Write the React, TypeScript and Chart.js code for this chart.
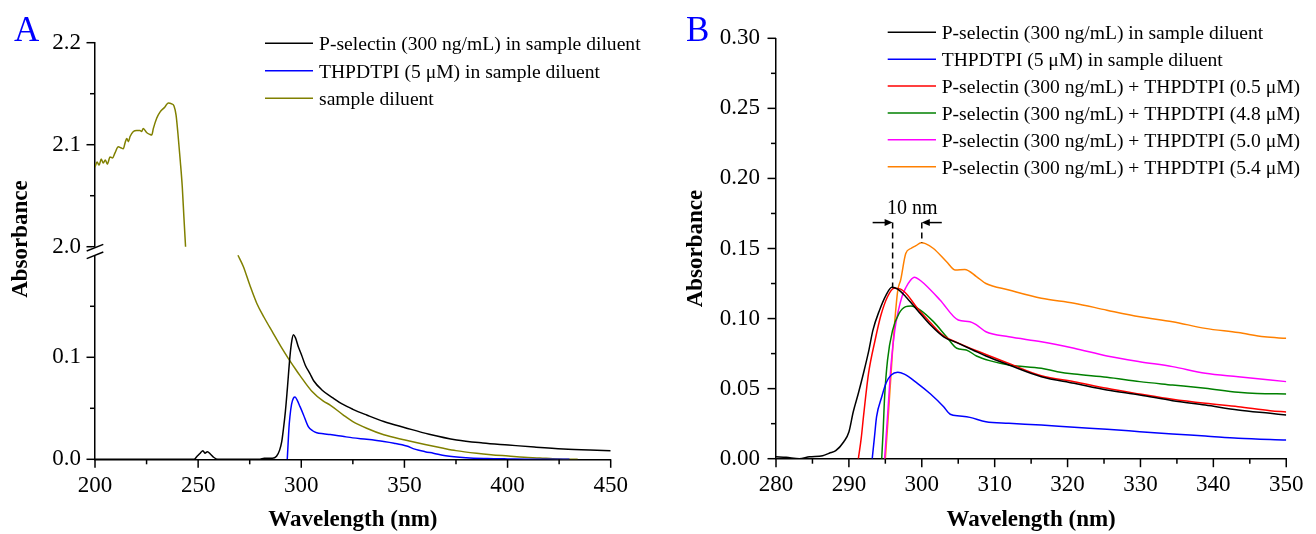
import React, { useEffect, useRef } from 'react';
import { Chart, registerables } from 'chart.js';

Chart.register(...registerables);

const FONT = "'Liberation Serif', 'Times New Roman', serif";
Chart.defaults.font.family = FONT;
Chart.defaults.color = '#000';

// ---------- Panel A ----------
const A_X_TICKS = [200, 250, 300, 350, 400, 450];
const A_X_MINOR = [225, 275, 325, 375, 425];
const A_Y_LOW_TICKS = [0, 0.1];
const A_Y_LOW_MINOR = [0.05, 0.15];
const A_Y_HIGH_TICKS = [2.0, 2.1, 2.2];
const A_Y_HIGH_MINOR = [2.05, 2.15];

const A_LABELS = [
  'P-selectin (300 ng/mL) in sample diluent',
  'THPDTPI (5 \u03bcM) in sample diluent',
  'sample diluent',
];

const A_PSEL_NM = [200, 248, 249.5, 251, 252.3, 253.3, 254.5, 256, 257.5, 259.5, 280, 282, 286, 288, 289.5, 290.5, 291.3, 292.3, 293.2, 294.5, 295.4, 296.2, 297.2, 298.6, 300, 302, 304.2, 306, 310, 315.5, 320, 325, 331.7, 340, 350.3, 362, 375.3, 388, 400.4, 413, 427, 440, 450];
const A_PSEL_ABS = [0, 0, 0.003, 0.006, 0.0085, 0.006, 0.0075, 0.005, 0.002, 0, 0, 0.001, 0.001, 0.003, 0.009, 0.017, 0.029, 0.047, 0.068, 0.1006, 0.116, 0.122, 0.119, 0.110, 0.103, 0.092, 0.084, 0.077, 0.068, 0.060, 0.054, 0.049, 0.0434, 0.037, 0.031, 0.0245, 0.0189, 0.016, 0.014, 0.012, 0.0101, 0.009, 0.0084];

const A_THP_NM = [293.2, 293.6, 294.0, 294.5, 295.3, 296.2, 297, 298, 299.4, 301, 303.4, 305.5, 307.5, 310.7, 314, 320, 325, 331.7, 340, 345, 351.1, 355, 360, 364, 370, 380, 390, 400, 415, 430];
const A_THP_ABS = [0, 0.015, 0.03, 0.042, 0.054, 0.06, 0.061, 0.058, 0.0516, 0.044, 0.032, 0.028, 0.026, 0.025, 0.0243, 0.0225, 0.021, 0.0196, 0.0175, 0.0158, 0.013, 0.010, 0.0075, 0.006, 0.0035, 0.0016, 0.0008, 0.0004, 0, 0];

const A_DIL_HIGH_NM = [200, 201, 202, 203, 204, 205, 206, 207.3, 208.5, 209.7, 211.3, 212.5, 213.7, 214.6, 215.4, 216.2, 217, 218.6, 220.2, 221.8, 222.6, 223.4, 225, 226.7, 227.5, 228.3, 229.9, 231.5, 233.9, 235.5, 237.2, 238.3, 239.3, 240.2, 241.3, 242.3, 243.1, 243.9];
const A_DIL_HIGH_ABS = [2.078, 2.083, 2.080, 2.086, 2.082, 2.085, 2.081, 2.088, 2.087, 2.092, 2.098, 2.097, 2.096, 2.102, 2.106, 2.103, 2.108, 2.113, 2.114, 2.114, 2.113, 2.116, 2.112, 2.110, 2.1095, 2.116, 2.126, 2.132, 2.137, 2.141, 2.140, 2.138, 2.129, 2.111, 2.085, 2.059, 2.029, 2.0];

const A_DIL_LOW_NM = [269.3, 271.9, 275, 278.4, 282, 286.4, 290, 293.7, 297, 299.4, 305, 310.7, 314, 320.4, 325, 331.7, 340, 350.3, 360, 368.9, 375, 385, 392, 400.4, 408, 415.7, 422, 427, 434];
const A_DIL_LOW_ABS = [0.200, 0.189, 0.171, 0.153, 0.139, 0.1235, 0.111, 0.099, 0.089, 0.082, 0.067, 0.057, 0.0532, 0.0434, 0.037, 0.0304, 0.024, 0.0189, 0.0145, 0.0108, 0.0085, 0.0059, 0.0045, 0.0032, 0.002, 0.0013, 0.0005, 0.0001, 0];

// ---------- Panel B ----------
const B_X_TICKS = [280, 290, 300, 310, 320, 330, 340, 350];
const B_X_MINOR = [285, 295, 305, 315, 325, 335, 345];
const B_Y_TICKS = [0, 0.05, 0.10, 0.15, 0.20, 0.25, 0.30];
const B_Y_MINOR = [0.025, 0.075, 0.125, 0.175, 0.225, 0.275];

const B_LABELS = [
  'P-selectin (300 ng/mL) in sample diluent',
  'THPDTPI (5 \u03bcM) in sample diluent',
  'P-selectin (300 ng/mL) + THPDTPI (0.5 \u03bcM)',
  'P-selectin (300 ng/mL) + THPDTPI (4.8 \u03bcM)',
  'P-selectin (300 ng/mL) + THPDTPI (5.0 \u03bcM)',
  'P-selectin (300 ng/mL) + THPDTPI (5.4 \u03bcM)',
];

const B_PSEL_NM = [280, 281.4, 283.2, 284.6, 286.4, 287.3, 288.2, 289.3, 290, 290.6, 291.3, 292, 292.7, 293.3, 294.2, 295.1, 295.9, 296.7, 297.8, 299.4, 301.2, 303, 304.8, 307, 308.8, 311.95, 316.4, 320.9, 325.4, 329.9, 334.4, 338.9, 343.4, 347.8, 350];
const B_PSEL_ABS = [0.0014, 0.001, 0.0, 0.0014, 0.0021, 0.0039, 0.0057, 0.0121, 0.019, 0.0335, 0.0467, 0.061, 0.0764, 0.0918, 0.106, 0.1168, 0.1223, 0.121, 0.1156, 0.106, 0.0954, 0.087, 0.0828, 0.0776, 0.0733, 0.0669, 0.0585, 0.0538, 0.049, 0.0455, 0.0414, 0.0383, 0.0348, 0.0324, 0.0312];

const B_THP_NM = [293.2, 293.5, 293.8, 294.5, 295.1, 295.8, 296.7, 297.6, 299.4, 301.2, 303, 303.9, 305.2, 306.6, 308.8, 311.95, 316.4, 320.9, 325.4, 329.9, 334.4, 338.9, 343.4, 350];
const B_THP_ABS = [0, 0.015, 0.030, 0.044, 0.054, 0.0597, 0.0617, 0.0604, 0.0538, 0.0462, 0.0371, 0.0317, 0.0305, 0.0295, 0.0264, 0.0253, 0.024, 0.0224, 0.021, 0.0193, 0.0176, 0.0162, 0.0146, 0.0133];

const B_MIX05_NM = [291.3, 291.7, 292, 292.7, 293.6, 294.4, 295.3, 296.2, 297.1, 298, 299.4, 301.2, 303, 304.8, 307.5, 311.95, 316.4, 320.9, 325.4, 329.9, 334.4, 338.9, 343.4, 347.8, 350];
const B_MIX05_ABS = [0, 0.015, 0.030, 0.061, 0.0847, 0.1025, 0.1156, 0.1216, 0.121, 0.117, 0.1073, 0.097, 0.0876, 0.083, 0.077, 0.068, 0.0592, 0.0549, 0.0502, 0.0462, 0.0424, 0.0395, 0.0371, 0.0343, 0.0333];

const B_MIX48_NM = [294.5, 294.7, 294.9, 295.3, 296, 296.9, 297.8, 298.5, 299.8, 301.6, 303.4, 304.8, 306.1, 307.5, 309.3, 311.95, 316.4, 318.6, 320.9, 325.4, 329.9, 334.4, 338.9, 343.4, 346, 350];
const B_MIX48_ABS = [0, 0.02, 0.044, 0.0704, 0.0918, 0.1038, 0.1085, 0.109, 0.1061, 0.0978, 0.087, 0.0788, 0.0776, 0.0733, 0.070, 0.0669, 0.0645, 0.0621, 0.0604, 0.0581, 0.055, 0.0526, 0.0502, 0.0474, 0.0465, 0.0462];

const B_MIX50_NM = [294.9, 295.3, 295.8, 296.3, 296.8, 297.3, 297.8, 298.4, 299, 299.6, 300.3, 302.5, 305, 306.6, 307.5, 308.8, 311.95, 316.4, 320.9, 325.4, 329.9, 334.4, 338.9, 343.4, 350];
const B_MIX50_ABS = [0, 0.03, 0.068, 0.092, 0.106, 0.116, 0.122, 0.127, 0.1294, 0.128, 0.125, 0.1133, 0.099, 0.0978, 0.0955, 0.0906, 0.087, 0.0835, 0.0788, 0.0733, 0.0692, 0.0657, 0.0609, 0.0585, 0.055];

const B_MIX54_NM = [295, 295.4, 295.9, 296.2, 296.7, 297.1, 297.8, 298.5, 299.2, 299.9, 300.5, 301.6, 303.4, 304.6, 305.9, 307.5, 308.8, 311.95, 316.4, 320.9, 325.4, 329.9, 334.4, 338.9, 343.4, 347, 350];
const B_MIX54_ABS = [0, 0.03, 0.07, 0.092, 0.12, 0.1275, 0.1465, 0.150, 0.152, 0.1541, 0.1535, 0.150, 0.1406, 0.1347, 0.1351, 0.130, 0.125, 0.1204, 0.1145, 0.111, 0.106, 0.1013, 0.0978, 0.093, 0.090, 0.087, 0.0859];

// 10 nm shift annotation (data units)
const B_SHIFT_FROM_NM = 296;
const B_SHIFT_TO_NM = 300;
const B_SHIFT_FROM_ABS = 0.1223;
const B_SHIFT_TO_ABS = 0.154;
const B_SHIFT_TOP_ABS = 0.1685;
const B_SHIFT_TEXT = '10 nm';

// ---------- helpers ----------
const pts = (xs: number[], ys: number[]) => xs.map((x, i) => ({ x, y: ys[i] }));

function line(label: string, color: string, xs: number[], ys: number[], yAxisID: string, extra: any = {}) {
  return {
    label,
    data: pts(xs, ys),
    borderColor: color,
    backgroundColor: color,
    borderWidth: 1.5,
    pointRadius: 0,
    fill: false,
    cubicInterpolationMode: 'monotone',
    xAxisID: 'x',
    yAxisID,
    ...extra,
  };
}

function fixedTicks(values: number[]) {
  return (scale: any) => {
    scale.ticks = values.map((v) => ({ value: v }));
  };
}

function ticksPlugin(spec: Record<string, { major: number[]; minor: number[] }>) {
  return {
    id: 'outTicks',
    afterDraw(chart: any) {
      const ctx = chart.ctx;
      ctx.save();
      ctx.strokeStyle = '#000';
      ctx.lineWidth = 1.5;
      Object.keys(spec).forEach((id) => {
        const s = chart.scales[id];
        const draw = (v: number, len: number) => {
          const p = s.getPixelForValue(v);
          ctx.beginPath();
          if (s.isHorizontal()) {
            ctx.moveTo(p, s.top);
            ctx.lineTo(p, s.top + len);
          } else {
            ctx.moveTo(s.right, p);
            ctx.lineTo(s.right - len, p);
          }
          ctx.stroke();
        };
        spec[id].major.forEach((v) => draw(v, 8.5));
        spec[id].minor.forEach((v) => draw(v, 5));
      });
      ctx.restore();
    },
  };
}

function legendPlugin(o: { x: number; y: number; step: number; len: number; gap: number }) {
  return {
    id: 'lineLegend',
    afterDraw(chart: any) {
      const ctx = chart.ctx;
      const items = chart.data.datasets.filter((d: any) => !d.legendHidden);
      ctx.save();
      ctx.font = `19.6px ${FONT}`;
      ctx.textAlign = 'left';
      ctx.textBaseline = 'alphabetic';
      items.forEach((d: any, i: number) => {
        const y = o.y + i * o.step;
        ctx.strokeStyle = d.borderColor;
        ctx.lineWidth = 1.5;
        ctx.beginPath();
        ctx.moveTo(o.x, y);
        ctx.lineTo(o.x + o.len, y);
        ctx.stroke();
        ctx.fillStyle = '#000';
        ctx.fillText(d.label, o.x + o.len + o.gap, y + 7);
      });
      ctx.restore();
    },
  };
}

function letterPlugin(letter: string, x: number, y: number) {
  return {
    id: 'panelLetter',
    afterDraw(chart: any) {
      const ctx = chart.ctx;
      ctx.save();
      ctx.font = `35px ${FONT}`;
      ctx.fillStyle = '#0000ff';
      ctx.textAlign = 'left';
      ctx.textBaseline = 'alphabetic';
      ctx.fillText(letter, x, y);
      ctx.restore();
    },
  };
}

const breakPlugin = {
  id: 'axisBreak',
  afterDraw(chart: any) {
    const ctx = chart.ctx;
    const low = chart.scales.yLow;
    const x = low.right;
    const p = low.top;
    ctx.save();
    ctx.fillStyle = '#fff';
    ctx.fillRect(x - 3, p - 3.3, 6, 7.6);
    ctx.strokeStyle = '#000';
    ctx.lineWidth = 1.5;
    [p - 3.3, p + 4.3].forEach((cy) => {
      ctx.beginPath();
      ctx.moveTo(x - 8.3, cy + 3.3);
      ctx.lineTo(x + 8.3, cy - 3.3);
      ctx.stroke();
    });
    // y-axis title for the broken axis
    ctx.translate(20.8, 239);
    ctx.rotate(-Math.PI / 2);
    ctx.font = `bold 23px ${FONT}`;
    ctx.fillStyle = '#000';
    ctx.textAlign = 'center';
    ctx.textBaseline = 'middle';
    ctx.fillText('Absorbance', 0, 0);
    ctx.restore();
  },
};

const shiftPlugin = {
  id: 'shiftNote',
  afterDraw(chart: any) {
    const ctx = chart.ctx;
    const xs = chart.scales.x;
    const ys = chart.scales.y;
    const xL = xs.getPixelForValue(B_SHIFT_FROM_NM);
    const xR = xs.getPixelForValue(B_SHIFT_TO_NM);
    const yT = ys.getPixelForValue(B_SHIFT_TOP_ABS);
    const yL = ys.getPixelForValue(B_SHIFT_FROM_ABS);
    const yR = ys.getPixelForValue(B_SHIFT_TO_ABS);
    ctx.save();
    ctx.strokeStyle = '#000';
    ctx.fillStyle = '#000';
    ctx.lineWidth = 1.5;
    ctx.setLineDash([6, 4]);
    ctx.beginPath();
    ctx.moveTo(xL, yT);
    ctx.lineTo(xL, yL);
    ctx.moveTo(xR, yT);
    ctx.lineTo(xR, yR);
    ctx.stroke();
    ctx.setLineDash([]);
    const arrow = (tip: number, dir: number) => {
      ctx.beginPath();
      ctx.moveTo(tip - dir * 20, yT);
      ctx.lineTo(tip - dir * 6, yT);
      ctx.stroke();
      ctx.beginPath();
      ctx.moveTo(tip, yT);
      ctx.lineTo(tip - dir * 8, yT - 3.5);
      ctx.lineTo(tip - dir * 8, yT + 3.5);
      ctx.closePath();
      ctx.fill();
    };
    arrow(xL, 1);
    arrow(xR, -1);
    ctx.font = `20px ${FONT}`;
    ctx.textAlign = 'center';
    ctx.textBaseline = 'alphabetic';
    ctx.fillText(B_SHIFT_TEXT, (xL + xR) / 2 + 5, yT - 9);
    ctx.restore();
  },
};

const tickFont = { family: FONT, size: 23 };
const titleFont = { family: FONT, size: 23, weight: 'bold' as const };
const border = { display: true, color: '#000', width: 1.5 };
const noGrid = { display: false, drawTicks: false };

export default function App() {
  const refA = useRef<HTMLCanvasElement | null>(null);
  const refB = useRef<HTMLCanvasElement | null>(null);

  useEffect(() => {
    const chartA = new Chart(refA.current as HTMLCanvasElement, {
      type: 'line',
      data: {
        datasets: [
          line(A_LABELS[0], '#000000', A_PSEL_NM, A_PSEL_ABS, 'yLow'),
          line(A_LABELS[1], '#0000ff', A_THP_NM, A_THP_ABS, 'yLow'),
          line(A_LABELS[2], '#808000', A_DIL_HIGH_NM, A_DIL_HIGH_ABS, 'yHigh'),
          line(A_LABELS[2], '#808000', A_DIL_LOW_NM, A_DIL_LOW_ABS, 'yLow', { legendHidden: true }),
        ] as any,
      },
      options: {
        responsive: false,
        animation: false,
        events: [],
        layout: { padding: { left: 0, top: 42.7, right: 49.3, bottom: 0 } },
        plugins: { legend: { display: false }, tooltip: { enabled: false } },
        scales: {
          x: {
            type: 'linear',
            min: 200,
            max: 450,
            afterBuildTicks: fixedTicks(A_X_TICKS),
            afterFit: (s: any) => { s.height = 74.7; },
            grid: noGrid,
            border,
            ticks: { font: tickFont, color: '#000', padding: 12.7, maxRotation: 0, autoSkip: false, callback: (v: any) => String(v) },
            title: { display: true, text: 'Wavelength (nm)', font: titleFont, color: '#000', padding: { top: 0, bottom: 0 } },
          },
          yLow: {
            type: 'linear',
            position: 'left',
            stack: 'a',
            stackWeight: 1,
            min: 0,
            max: 0.2042,
            afterBuildTicks: fixedTicks(A_Y_LOW_TICKS),
            afterFit: (s: any) => { s.width = 95; },
            grid: noGrid,
            border,
            ticks: { font: tickFont, color: '#000', padding: 14, callback: (v: any) => Number(v).toFixed(1) },
          },
          yHigh: {
            type: 'linear',
            position: 'left',
            stack: 'a',
            stackWeight: 1,
            min: 1.9958,
            max: 2.2,
            afterBuildTicks: fixedTicks(A_Y_HIGH_TICKS),
            afterFit: (s: any) => { s.width = 95; },
            grid: noGrid,
            border,
            ticks: { font: tickFont, color: '#000', padding: 14, callback: (v: any) => Number(v).toFixed(1) },
          },
        } as any,
      },
      plugins: [
        ticksPlugin({
          x: { major: A_X_TICKS, minor: A_X_MINOR },
          yLow: { major: A_Y_LOW_TICKS, minor: A_Y_LOW_MINOR },
          yHigh: { major: A_Y_HIGH_TICKS, minor: A_Y_HIGH_MINOR },
        }),
        breakPlugin,
        legendPlugin({ x: 265, y: 43.3, step: 27.5, len: 48, gap: 6 }),
        letterPlugin('A', 14, 41),
      ] as any,
    });

    const chartB = new Chart(refB.current as HTMLCanvasElement, {
      type: 'line',
      data: {
        datasets: [
          line(B_LABELS[0], '#000000', B_PSEL_NM, B_PSEL_ABS, 'y'),
          line(B_LABELS[1], '#0000ff', B_THP_NM, B_THP_ABS, 'y'),
          line(B_LABELS[2], '#ff0000', B_MIX05_NM, B_MIX05_ABS, 'y'),
          line(B_LABELS[3], '#008000', B_MIX48_NM, B_MIX48_ABS, 'y'),
          line(B_LABELS[4], '#ff00ff', B_MIX50_NM, B_MIX50_ABS, 'y'),
          line(B_LABELS[5], '#ff8000', B_MIX54_NM, B_MIX54_ABS, 'y'),
        ] as any,
      },
      options: {
        responsive: false,
        animation: false,
        events: [],
        layout: { padding: { left: 0, top: 38.3, right: 20, bottom: 0 } },
        plugins: { legend: { display: false }, tooltip: { enabled: false } },
        scales: {
          x: {
            type: 'linear',
            min: 280,
            max: 350,
            afterBuildTicks: fixedTicks(B_X_TICKS),
            afterFit: (s: any) => { s.height = 75.3; },
            grid: noGrid,
            border,
            ticks: { font: tickFont, color: '#000', padding: 12.5, maxRotation: 0, autoSkip: false, callback: (v: any) => String(v) },
            title: { display: true, text: 'Wavelength (nm)', font: titleFont, color: '#000', padding: { top: 0, bottom: 0 } },
          },
          y: {
            type: 'linear',
            position: 'left',
            min: 0,
            max: 0.3,
            afterBuildTicks: fixedTicks(B_Y_TICKS),
            afterFit: (s: any) => { s.width = 116; },
            grid: noGrid,
            border,
            ticks: { font: tickFont, color: '#000', padding: 16, callback: (v: any) => Number(v).toFixed(2) },
            title: { display: true, text: 'Absorbance', font: titleFont, color: '#000', padding: { top: 22, bottom: 0 } },
          },
        } as any,
      },
      plugins: [
        ticksPlugin({
          x: { major: B_X_TICKS, minor: B_X_MINOR },
          y: { major: B_Y_TICKS, minor: B_Y_MINOR },
        }),
        shiftPlugin,
        legendPlugin({ x: 227.7, y: 32.3, step: 26.88, len: 48.3, gap: 5.7 }),
        letterPlugin('B', 26, 41),
      ] as any,
    });

    return () => {
      chartA.destroy();
      chartB.destroy();
    };
  }, []);

  return (
    <div style={{ position: 'absolute', left: 0, top: 0, width: 1316, height: 534, background: '#fff', overflow: 'hidden' }}>
      <div style={{ position: 'absolute', left: 0, top: 0, width: 660, height: 534 }}>
        <canvas ref={refA} width={660} height={534} style={{ display: 'block' }} />
      </div>
      <div style={{ position: 'absolute', left: 660, top: 0, width: 656, height: 534 }}>
        <canvas ref={refB} width={656} height={534} style={{ display: 'block' }} />
      </div>
    </div>
  );
}
